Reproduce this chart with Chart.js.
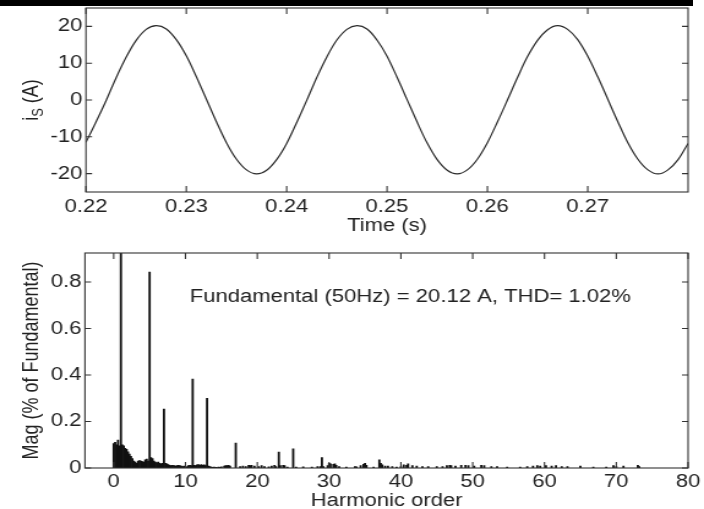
<!DOCTYPE html>
<html><head><meta charset="utf-8">
<script src="https://cdn.jsdelivr.net/npm/chart.js@4"></script>
<style>
html,body{margin:0;padding:0;background:#fff;width:704px;height:509px;overflow:hidden}
#w1{position:absolute;left:0;top:0;width:704px;height:240px}
#w2{position:absolute;left:0;top:240px;width:704px;height:272px}
/* the original figure is horizontally stretched: draw at 575 px and widen to 704 px */
#c1{width:704px !important;height:240px !important;display:block}
#c2{width:704px !important;height:272px !important;display:block}
#bar{position:absolute;left:0;top:0;width:693px;height:6px;background:#000}
</style></head><body>
<div id="w1"><canvas id="c1" width="575" height="240"></canvas></div>
<div id="w2"><canvas id="c2" width="575" height="272"></canvas></div>
<div id="bar"></div>
<script>
// ---- top panel: source current ----
const timeSeconds = [0.220,0.221,0.222,0.223,0.224,0.225,0.226,0.227,0.228,0.229,
  0.230,0.231,0.232,0.233,0.234,0.235,0.236,0.237,0.238,0.239,
  0.240,0.241,0.242,0.243,0.244,0.245,0.246,0.247,0.248,0.249,
  0.250,0.251,0.252,0.253,0.254,0.255,0.256,0.257,0.258,0.259,
  0.260,0.261,0.262,0.263,0.264,0.265,0.266,0.267,0.268,0.269,
  0.270,0.271,0.272,0.273,0.274,0.275,0.276,0.277,0.278,0.279,0.280];
const currentAmps = [-11.5,-6.0,-0.2,6.0,11.6,16.2,19.2,20.2,19.3,16.4,
  12.0,6.3,0.2,-5.9,-11.6,-16.1,-19.0,-20.1,-19.1,-16.2,
  -11.8,-6.1,-0.1,6.1,11.7,16.3,19.2,20.2,19.3,16.3,
  11.9,6.2,0.1,-6.0,-11.7,-16.2,-19.1,-20.1,-19.0,-16.1,
  -11.6,-6.0,0.0,6.1,11.8,16.2,19.1,20.2,19.2,16.4,
  11.9,6.3,0.2,-5.9,-11.6,-16.1,-19.0,-20.1,-19.0,-16.2,-11.8];
const timeTicks = [0.22,0.23,0.24,0.25,0.26,0.27];
const currentTicks = [-20,-10,0,10,20];

// ---- bottom panel: harmonic spectrum ----
const harmonicOrder = [0.0,0.2,0.4,0.6,0.8,1.0,1.2,1.4,1.6,1.8,2.0,2.2,2.4,2.6,2.8,3.0,3.2,3.4,3.6,3.8,
  4.0,4.2,4.4,4.6,4.8,5.0,5.2,5.4,5.6,5.8,6.0,6.2,6.4,6.6,6.8,7.0,7.2,7.4,7.6,7.8,
  8.0,8.2,8.4,8.6,8.8,9.0,9.2,9.4,9.6,9.8,10.0,10.2,10.4,10.6,10.8,11.0,11.2,11.4,11.6,11.8,
  12.0,12.2,12.4,12.6,12.8,13.0,13.2,13.4,13.6,13.8,14.0,14.2,14.4,14.6,14.8,15.0,
  15.4,15.6,15.8,16.0,16.2,17.0,17.6,18.0,18.4,18.8,19.0,19.2,19.6,20.2,20.6,21.0,21.6,22.0,22.4,22.6,
  23.0,23.2,23.6,23.8,24.2,25.0,25.4,26.4,27.6,28.4,28.8,29.0,29.2,29.8,30.0,30.2,30.6,30.8,31.0,31.4,
  32.4,33.6,33.8,34.4,34.8,35.0,35.2,36.2,37.0,37.2,37.4,37.8,38.2,38.8,39.4,40.0,40.4,40.8,41.0,41.6,
  42.2,43.0,43.8,45.0,45.8,46.4,46.8,47.0,47.6,48.4,49.0,49.4,50.2,51.2,51.6,52.6,53.4,54.8,56.6,57.6,
  58.4,59.0,59.4,60.2,61.0,61.6,62.4,63.2,65.0,66.8,68.6,69.6,70.0,71.0,73.0,73.2];
const magnitude = [0.105,0.110,0.100,0.120,0.095,1.000,0.100,0.095,0.085,0.080,0.070,0.060,0.050,0.040,0.030,0.025,0.020,0.030,0.032,0.030,
  0.028,0.025,0.035,0.038,0.030,0.843,0.045,0.040,0.030,0.025,0.022,0.025,0.020,0.018,0.020,0.254,0.020,0.018,0.015,0.012,
  0.010,0.012,0.010,0.008,0.010,0.012,0.010,0.008,0.006,0.008,0.006,0.005,0.010,0.012,0.010,0.383,0.012,0.010,0.014,0.015,
  0.012,0.015,0.012,0.014,0.010,0.300,0.008,0.006,0.004,0.003,0.004,0.003,0.002,0.004,0.003,0.005,
  0.008,0.010,0.010,0.012,0.008,0.107,0.006,0.008,0.006,0.012,0.010,0.012,0.008,0.006,0.010,0.006,0.005,0.008,0.012,0.006,
  0.068,0.010,0.012,0.010,0.004,0.082,0.004,0.005,0.004,0.006,0.006,0.045,0.006,0.010,0.020,0.018,0.016,0.018,0.012,0.006,
  0.004,0.006,0.005,0.010,0.016,0.020,0.012,0.004,0.035,0.020,0.014,0.008,0.008,0.006,0.004,0.006,0.014,0.012,0.018,0.010,
  0.008,0.006,0.006,0.006,0.006,0.010,0.012,0.010,0.008,0.012,0.012,0.010,0.008,0.012,0.010,0.006,0.006,0.004,0.004,0.006,
  0.008,0.010,0.008,0.010,0.008,0.010,0.006,0.006,0.008,0.004,0.004,0.010,0.006,0.008,0.012,0.006];
const harmonicTicks = [0,10,20,30,40,50,60,70,80];
const magTicks = [0,0.2,0.4,0.6,0.8];
const annotationText = 'Fundamental (50Hz) = 20.12 A, THD= 1.02%';
const magTitle = 'Mag (% of Fundamental)';

const FONT = '"Liberation Sans", Arial, Helvetica, sans-serif';
const TXT = '#222';
const FS = 18;

// MATLAB-style box with inward ticks on all sides
const boxPlugin = {
  id: 'box',
  afterDraw(chart) {
    const {ctx, chartArea: a, scales: {x, y}} = chart;
    ctx.save();
    ctx.strokeStyle = '#333';
    ctx.lineWidth = 1.1;
    ctx.strokeRect(a.left, a.top, a.right - a.left, a.bottom - a.top);
    ctx.beginPath();
    x.ticks.forEach(t => {
      const p = x.getPixelForValue(t.value);
      ctx.moveTo(p, a.bottom); ctx.lineTo(p, a.bottom - 6);
      ctx.moveTo(p, a.top); ctx.lineTo(p, a.top + 6);
    });
    y.ticks.forEach(t => {
      const p = y.getPixelForValue(t.value);
      ctx.moveTo(a.left, p); ctx.lineTo(a.left + 5, p);
      ctx.moveTo(a.right, p); ctx.lineTo(a.right - 5, p);
    });
    ctx.stroke();
    ctx.restore();
  }
};

// rotated y title, optional subscript part
const yTitlePlugin = {
  id: 'yTitle',
  afterDraw(chart, args, opts) {
    const {ctx, chartArea: a} = chart;
    ctx.save();
    ctx.translate(opts.x, (a.top + a.bottom) / 2);
    ctx.rotate(-Math.PI / 2);
    ctx.fillStyle = TXT;
    ctx.textBaseline = 'alphabetic';
    const f1 = FS + 'px ' + FONT, f2 = '13px ' + FONT;
    ctx.font = f1; const wi = ctx.measureText(opts.main).width; const wr = ctx.measureText(opts.rest).width;
    ctx.font = f2; const ws = opts.sub ? ctx.measureText(opts.sub).width : 0;
    let px = -(wi + ws + wr) / 2;
    ctx.font = f1; ctx.fillText(opts.main, px, 6); px += wi;
    if (opts.sub) { ctx.font = f2; ctx.fillText(opts.sub, px, 10); px += ws; }
    ctx.font = f1; ctx.fillText(opts.rest, px, 6);
    ctx.restore();
  }
};

const annotationPlugin = {
  id: 'note',
  afterDraw(chart, args, opts) {
    const {ctx, scales: {x, y}} = chart;
    ctx.save();
    ctx.font = FS + 'px ' + FONT;
    ctx.fillStyle = TXT;
    ctx.textBaseline = 'middle';
    ctx.textAlign = 'left';
    ctx.fillText(opts.text, x.getPixelForValue(opts.atX), y.getPixelForValue(opts.atY));
    ctx.restore();
  }
};

const tickFont = {family: FONT, size: FS};
const fitX = h => s => { s.height = h; s.paddingLeft = 0; s.paddingRight = 0; };
const fitY = w => s => { s.width = w; s.paddingTop = 0; s.paddingBottom = 0; };

new Chart(document.getElementById('c1'), {
  type: 'line',
  data: {datasets: [{
    data: timeSeconds.map((t, i) => ({x: t, y: currentAmps[i]})),
    borderColor: '#2a2a2a', borderWidth: 1.2, pointRadius: 0, tension: 0.35, fill: false
  }]},
  options: {
    responsive: false, animation: false, devicePixelRatio: 1,
    layout: {padding: {left: 0, top: 8, right: 13, bottom: 2}},
    plugins: {legend: {display: false}, tooltip: {enabled: false},
      yTitle: {x: 24.5, main: 'i', sub: 'S', rest: ' (A)'}},
    scales: {
      x: {type: 'linear', min: 0.22, max: 0.28,
        afterBuildTicks: s => { s.ticks = timeTicks.map(v => ({value: v})); },
        afterFit: fitX(46),
        grid: {display: false, drawTicks: false}, border: {display: false},
        ticks: {font: tickFont, color: TXT, padding: 4, maxRotation: 0, callback: v => v.toFixed(2)},
        title: {display: true, text: 'Time (s)', font: tickFont, color: TXT, padding: {top: 0, bottom: 1}}
      },
      y: {min: -25, max: 25,
        afterBuildTicks: s => { s.ticks = currentTicks.map(v => ({value: v})); },
        afterFit: fitY(70.2),
        grid: {display: false, drawTicks: false}, border: {display: false},
        ticks: {font: tickFont, color: TXT, padding: 3}
      }
    }
  },
  plugins: [boxPlugin, yTitlePlugin]
});

new Chart(document.getElementById('c2'), {
  type: 'bar',
  data: {datasets: [{
    data: harmonicOrder.map((h, i) => ({x: h, y: magnitude[i]})),
    backgroundColor: '#111', borderWidth: 0,
    barPercentage: 1, categoryPercentage: 1, grouped: false
  }]},
  options: {
    responsive: false, animation: false, devicePixelRatio: 1,
    layout: {padding: {left: 0, top: 13, right: 13, bottom: 0}},
    plugins: {legend: {display: false}, tooltip: {enabled: false},
      note: {text: annotationText, atX: 10.6, atY: 0.735},
      yTitle: {x: 24.5, main: magTitle, sub: '', rest: ''}},
    scales: {
      x: {type: 'linear', min: -4, max: 80, offset: false,
        afterBuildTicks: s => { s.ticks = harmonicTicks.map(v => ({value: v})); },
        afterFit: fitX(44),
        grid: {display: false, drawTicks: false, offset: false}, border: {display: false},
        ticks: {font: tickFont, color: TXT, padding: 3, maxRotation: 0},
        title: {display: true, text: 'Harmonic order', font: tickFont, color: TXT, padding: {top: 0, bottom: 0}}
      },
      y: {min: 0, max: 0.925,
        afterBuildTicks: s => { s.ticks = magTicks.map(v => ({value: v})); },
        afterFit: fitY(69.4),
        grid: {display: false, drawTicks: false}, border: {display: false},
        ticks: {font: tickFont, color: TXT, padding: 3, callback: v => v === 0 ? '0' : v.toFixed(1)}
      }
    }
  },
  plugins: [boxPlugin, annotationPlugin, yTitlePlugin]
});
</script>
</body></html>
